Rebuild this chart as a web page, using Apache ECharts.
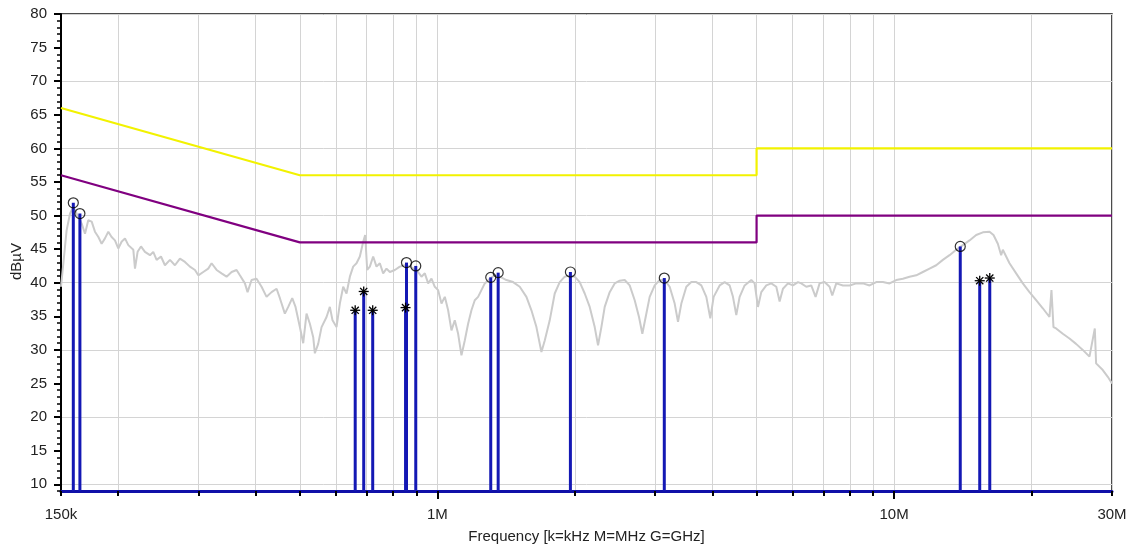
<!DOCTYPE html>
<html>
<head>
<meta charset="utf-8">
<title>Conducted emission scan</title>
<script src="https://cdn.jsdelivr.net/npm/echarts@6/dist/echarts.min.js"></script>
<style>
  html, body { margin: 0; padding: 0; background: #fff; }
  #chart { width: 1131px; height: 546px; }
</style>
</head>
<body>
<div id="chart"></div>
<script>
// frequencies in MHz, levels in dBuV
const traceFreq = [
  0.150, 0.1518, 0.1543, 0.157, 0.1596, 0.1623, 0.1665, 0.1693, 0.1721, 0.1751,
  0.178, 0.1811, 0.1841, 0.1872, 0.1904, 0.1936, 0.1969, 0.2002, 0.2036, 0.2071,
  0.2106, 0.216, 0.2178, 0.2207, 0.2245, 0.229, 0.2349, 0.2388, 0.2429, 0.2483,
  0.2533, 0.2598, 0.2664, 0.2732, 0.2802, 0.2873, 0.2947, 0.2997, 0.3073, 0.3151,
  0.3205, 0.3287, 0.337, 0.3456, 0.3545, 0.3635, 0.3696, 0.3791, 0.3842, 0.392,
  0.402, 0.4123, 0.4228, 0.4336, 0.4447, 0.4522, 0.4637, 0.4716, 0.4812, 0.4893,
  0.5001, 0.5086, 0.5172, 0.526, 0.5349,
  0.5394, 0.5485, 0.5579, 0.5721, 0.5817, 0.5896, 0.6016, 0.6118, 0.6222, 0.6327,
  0.6435, 0.6543, 0.6654, 0.6767, 0.6882, 0.6951, 0.7022, 0.7116, 0.7237, 0.7359,
  0.7484, 0.7611, 0.774, 0.7871, 0.8072, 0.8277, 0.8488, 0.8705, 0.9002, 0.9232,
  0.9389, 0.9548, 0.971, 0.9874, 1.0041, 1.0212, 1.0385, 1.056, 1.0739, 1.092,
  1.1106, 1.1294, 1.1484, 1.1679, 1.1877, 1.2078, 1.2282, 1.249, 1.2702, 1.3026,
  1.3359, 1.370, 1.4169, 1.4652, 1.5152, 1.567, 1.607, 1.648, 1.69, 1.7187, 1.7624,
  1.8074, 1.8535, 1.9008, 1.9494, 1.999, 2.05, 2.1024, 2.156, 2.211, 2.2485,
  2.2866, 2.3253, 2.3844, 2.4453, 2.5077, 2.5717, 2.6373, 2.7046, 2.7642, 2.811,
  2.8587, 2.9168, 2.9914, 3.0678, 3.1461, 3.2262, 3.3086, 3.3647, 3.4217, 3.509,
  3.5985, 3.6903, 3.7845, 3.881, 3.9599, 4.027, 4.1508, 4.2567, 4.3653, 4.4388,
  4.514, 4.5905, 4.7076, 4.8686, 4.951, 5.035, 5.12, 5.2509, 5.3849, 5.5223,
  5.6159, 5.711, 5.8568, 6.0062, 6.1595,
  6.2637, 6.4236, 6.587, 6.7328, 6.8696, 7.0449, 7.2246, 7.3221, 7.4715, 7.727,
  7.991, 8.264, 8.5464, 8.8376, 9.1395, 9.4518, 9.7748, 10.109, 10.454, 10.812,
  11.181, 11.563, 11.958, 12.367, 12.788, 13.226, 13.677, 14.145, 14.628, 15.128,
  15.645, 16.179, 16.508, 16.872, 17.157, 17.302, 17.894, 18.505, 19.137, 19.791,
  20.467, 21.166, 21.889, 22.11, 22.335, 22.636, 23.41, 24.21, 25.03, 25.89,
  26.78, 27.51, 27.69, 28.64, 29.37, 30.0
];
const traceLevel = [
  39.4, 42.9, 47.8, 50.3, 51.3, 50.3, 48.8, 47.3, 49.3, 49.1,
  47.6, 46.8, 45.8, 46.6, 47.6, 46.8, 46.3, 45.1, 46.1, 46.6,
  45.6, 44.9, 42.1, 44.6, 45.4, 44.6, 44.1, 44.6, 43.4, 43.9,
  42.6, 43.4, 42.6, 43.6, 43.1, 42.4, 41.9, 41.1, 41.6, 42.1,
  42.9, 41.9, 41.4, 40.9, 41.6, 41.9, 41.1, 39.9, 38.6, 40.4,
  40.6, 39.4, 37.9, 38.6, 39.1, 37.7, 35.4, 36.4, 37.7, 36.4,
  33.4, 31.0, 35.4, 33.9, 31.9,
  29.5, 30.9, 33.4, 34.9, 36.4, 34.4, 33.4, 36.9, 39.4, 38.4,
  40.9, 42.4, 42.9, 43.9, 46.1, 47.1, 41.9, 42.4, 43.9, 42.4,
  42.9, 41.4, 42.1, 41.6, 41.9, 42.4, 42.6, 42.4, 41.9, 40.9,
  41.4, 39.9, 40.6, 39.4, 38.9, 36.9, 37.9, 35.9, 32.9, 34.4,
  32.4, 29.2, 31.4, 33.9, 35.9, 37.4, 37.9, 38.9, 39.9, 40.6,
  41.1, 40.9, 40.4, 40.1, 39.4, 37.9, 35.9, 33.4, 29.7, 31.4, 34.4,
  38.4, 40.1, 40.9, 41.1, 40.9, 40.1, 38.4, 36.4, 33.4, 30.7,
  33.4, 36.4, 38.6, 39.9, 40.3, 40.4, 39.6, 37.4, 34.9, 32.4,
  34.9, 37.9, 39.6, 40.4, 40.4, 39.4, 36.9, 34.2, 36.9, 39.4,
  40.1, 40.1, 39.6, 37.9, 34.7, 37.9, 39.6, 40.1, 39.6, 37.9,
  35.2, 37.9, 39.6, 40.4, 39.9, 36.4, 38.6, 39.6, 39.9, 39.4,
  37.2, 39.1, 39.9, 39.6, 40.1,
  39.9, 39.4, 39.6, 37.9, 39.9, 40.1, 39.4, 38.1, 39.9, 39.6,
  39.6, 39.9, 39.9, 39.6, 40.1, 40.1, 39.9, 40.4, 40.6, 40.9,
  41.1, 41.6, 42.1, 42.6, 43.4, 44.1, 44.9, 45.6, 46.3, 47.1,
  47.5, 47.6, 47.1, 45.8, 44.1, 44.9, 42.9, 41.4, 39.9, 38.6,
  37.4, 36.2, 34.9, 38.9, 33.4, 33.2, 32.4, 31.7, 30.9, 30.0,
  29.0, 33.2, 28.0, 27.0, 26.0, 25.0
];

// final scan results
const qpFreq = [0.1596, 0.165, 0.856, 0.897, 1.309, 1.359, 1.956, 3.14, 13.96];
const qpLevel = [51.9, 50.3, 43.0, 42.5, 40.8, 41.5, 41.6, 40.7, 45.4];
const avgFreq = [0.661, 0.690, 0.722, 0.852, 15.4, 16.2];
const avgLevel = [35.9, 38.7, 35.9, 36.3, 40.3, 40.7];

// limit lines
const limitFreq = [0.15, 0.5, 5, 5, 30];
const qpLimit = [66, 56, 56, 60, 60];
const avgLimit = [56, 46, 46, 50, 50];

// axis ticks
const gridFreq = [0.15, 0.2, 0.3, 0.4, 0.5, 0.6, 0.7, 0.8, 0.9, 1, 2, 3, 4, 5, 6, 7, 8, 9, 10, 20, 30];
const majorFreq = [1, 10];
const freqLabels = [0.15, 1, 10, 30];
const freqLabelText = ['150k', '1M', '10M', '30M'];
const levelLabels = [10, 15, 20, 25, 30, 35, 40, 45, 50, 55, 60, 65, 70, 75, 80];
const levelGrid = [10, 20, 30, 40, 50, 60, 70, 80];
const yMin = 9, yMax = 80;

const FONT = '"Liberation Sans", Arial, sans-serif';
const pts = (fs, vs) => fs.map((f, i) => [Math.log10(f), vs[i]]);

const chart = echarts.init(document.getElementById('chart'));

function stem(params, api) {
  const top = api.coord([api.value(0), api.value(1)]);
  const base = api.coord([api.value(0), yMin]);
  return {
    type: 'line',
    shape: { x1: top[0], y1: top[1], x2: base[0], y2: base[1] },
    style: { stroke: '#1418b4', lineWidth: 3 }
  };
}

function asterisk(params, api) {
  const p = api.coord([api.value(0), api.value(1)]);
  const r = 5, d = 3.6;
  const seg = (x1, y1, x2, y2) => ({
    type: 'line',
    shape: { x1: p[0] + x1, y1: p[1] + y1, x2: p[0] + x2, y2: p[1] + y2 },
    style: { stroke: '#000', lineWidth: 1.3 }
  });
  return {
    type: 'group',
    children: [seg(-r, 0, r, 0), seg(0, -r, 0, r), seg(-d, -d, d, d), seg(-d, d, d, -d)]
  };
}

const yBase = {
  type: 'value', min: yMin, max: yMax, position: 'left',
  axisLine: { show: false, onZero: false }, axisLabel: { show: false },
  axisTick: { show: false }, splitLine: { show: false }
};
const xBase = {
  type: 'value', min: Math.log10(0.15), max: Math.log10(30), position: 'bottom',
  axisLine: { show: false, onZero: false }, axisLabel: { show: false },
  axisTick: { show: false }, splitLine: { show: false }
};

chart.setOption({
  animation: false,
  grid: {
    left: 61, right: 19, top: 14, bottom: 55, containLabel: false, outerBoundsMode: 'none',
    show: true, borderColor: '#111', borderWidth: 1.5
  },
  xAxis: [
    Object.assign({}, xBase, {
      name: 'Frequency [k=kHz M=MHz G=GHz]', nameLocation: 'middle', nameGap: 38,
      nameTextStyle: { fontSize: 15, color: '#222', fontFamily: FONT },
      axisLine: { show: true, onZero: false, lineStyle: { color: '#1010a8', width: 3 } },
      axisTick: { show: true, customValues: gridFreq.map(Math.log10), length: 5, lineStyle: { color: '#000', width: 2 } },
      axisLabel: {
        show: true, customValues: freqLabels.map(Math.log10), margin: 16,
        fontSize: 15, color: '#222', fontFamily: FONT,
        formatter: v => {
          const i = freqLabels.findIndex(f => Math.abs(Math.log10(f) - v) < 1e-6);
          return i < 0 ? '' : freqLabelText[i];
        }
      },
      splitLine: { show: true, lineStyle: { color: '#d4d4d4', width: 1 } }
    }),
    Object.assign({}, xBase, {
      axisTick: { show: true, customValues: majorFreq.map(Math.log10), length: 8, lineStyle: { color: '#000', width: 2 } }
    })
  ],
  yAxis: [
    Object.assign({}, yBase, {
      interval: 1,
      name: 'dBµV', nameLocation: 'middle', nameGap: 37,
      nameTextStyle: { fontSize: 15, color: '#222', fontFamily: FONT, padding: [0, 18, 0, 0] },
      axisLine: { show: true, onZero: false, lineStyle: { color: '#000', width: 2 } },
      axisTick: { show: true, length: 4, lineStyle: { color: '#000', width: 1.5 } }
    }),
    Object.assign({}, yBase, {
      axisTick: { show: true, customValues: levelLabels, length: 7, lineStyle: { color: '#000', width: 2 } },
      axisLabel: { show: true, customValues: levelLabels, margin: 14, fontSize: 15, color: '#222', fontFamily: FONT }
    }),
    Object.assign({}, yBase, {
      axisTick: { show: false, customValues: levelGrid },
      splitLine: { show: true, lineStyle: { color: '#d4d4d4', width: 1 } }
    })
  ],
  series: [
    {
      name: 'Scan', type: 'line', data: pts(traceFreq, traceLevel),
      symbol: 'none', lineStyle: { color: '#cbcbcb', width: 2 }, z: 1
    },
    {
      name: 'QP limit', type: 'line', data: pts(limitFreq, qpLimit),
      symbol: 'none', lineStyle: { color: '#f2f200', width: 2.2 }, z: 2
    },
    {
      name: 'AV limit', type: 'line', data: pts(limitFreq, avgLimit),
      symbol: 'none', lineStyle: { color: '#800080', width: 2.2 }, z: 2
    },
    {
      name: 'QP stems', type: 'custom', renderItem: stem,
      data: pts(qpFreq, qpLevel), encode: { x: 0, y: 1 }, z: 3
    },
    {
      name: 'AV stems', type: 'custom', renderItem: stem,
      data: pts(avgFreq, avgLevel), encode: { x: 0, y: 1 }, z: 3
    },
    {
      name: 'QP', type: 'scatter', data: pts(qpFreq, qpLevel),
      symbol: 'circle', symbolSize: 10,
      itemStyle: { color: 'rgba(255,255,255,0)', borderColor: '#000', borderWidth: 1.2 }, z: 4
    },
    {
      name: 'AV', type: 'custom', renderItem: asterisk,
      data: pts(avgFreq, avgLevel), encode: { x: 0, y: 1 }, z: 4
    }
  ]
});
</script>
</body>
</html>
